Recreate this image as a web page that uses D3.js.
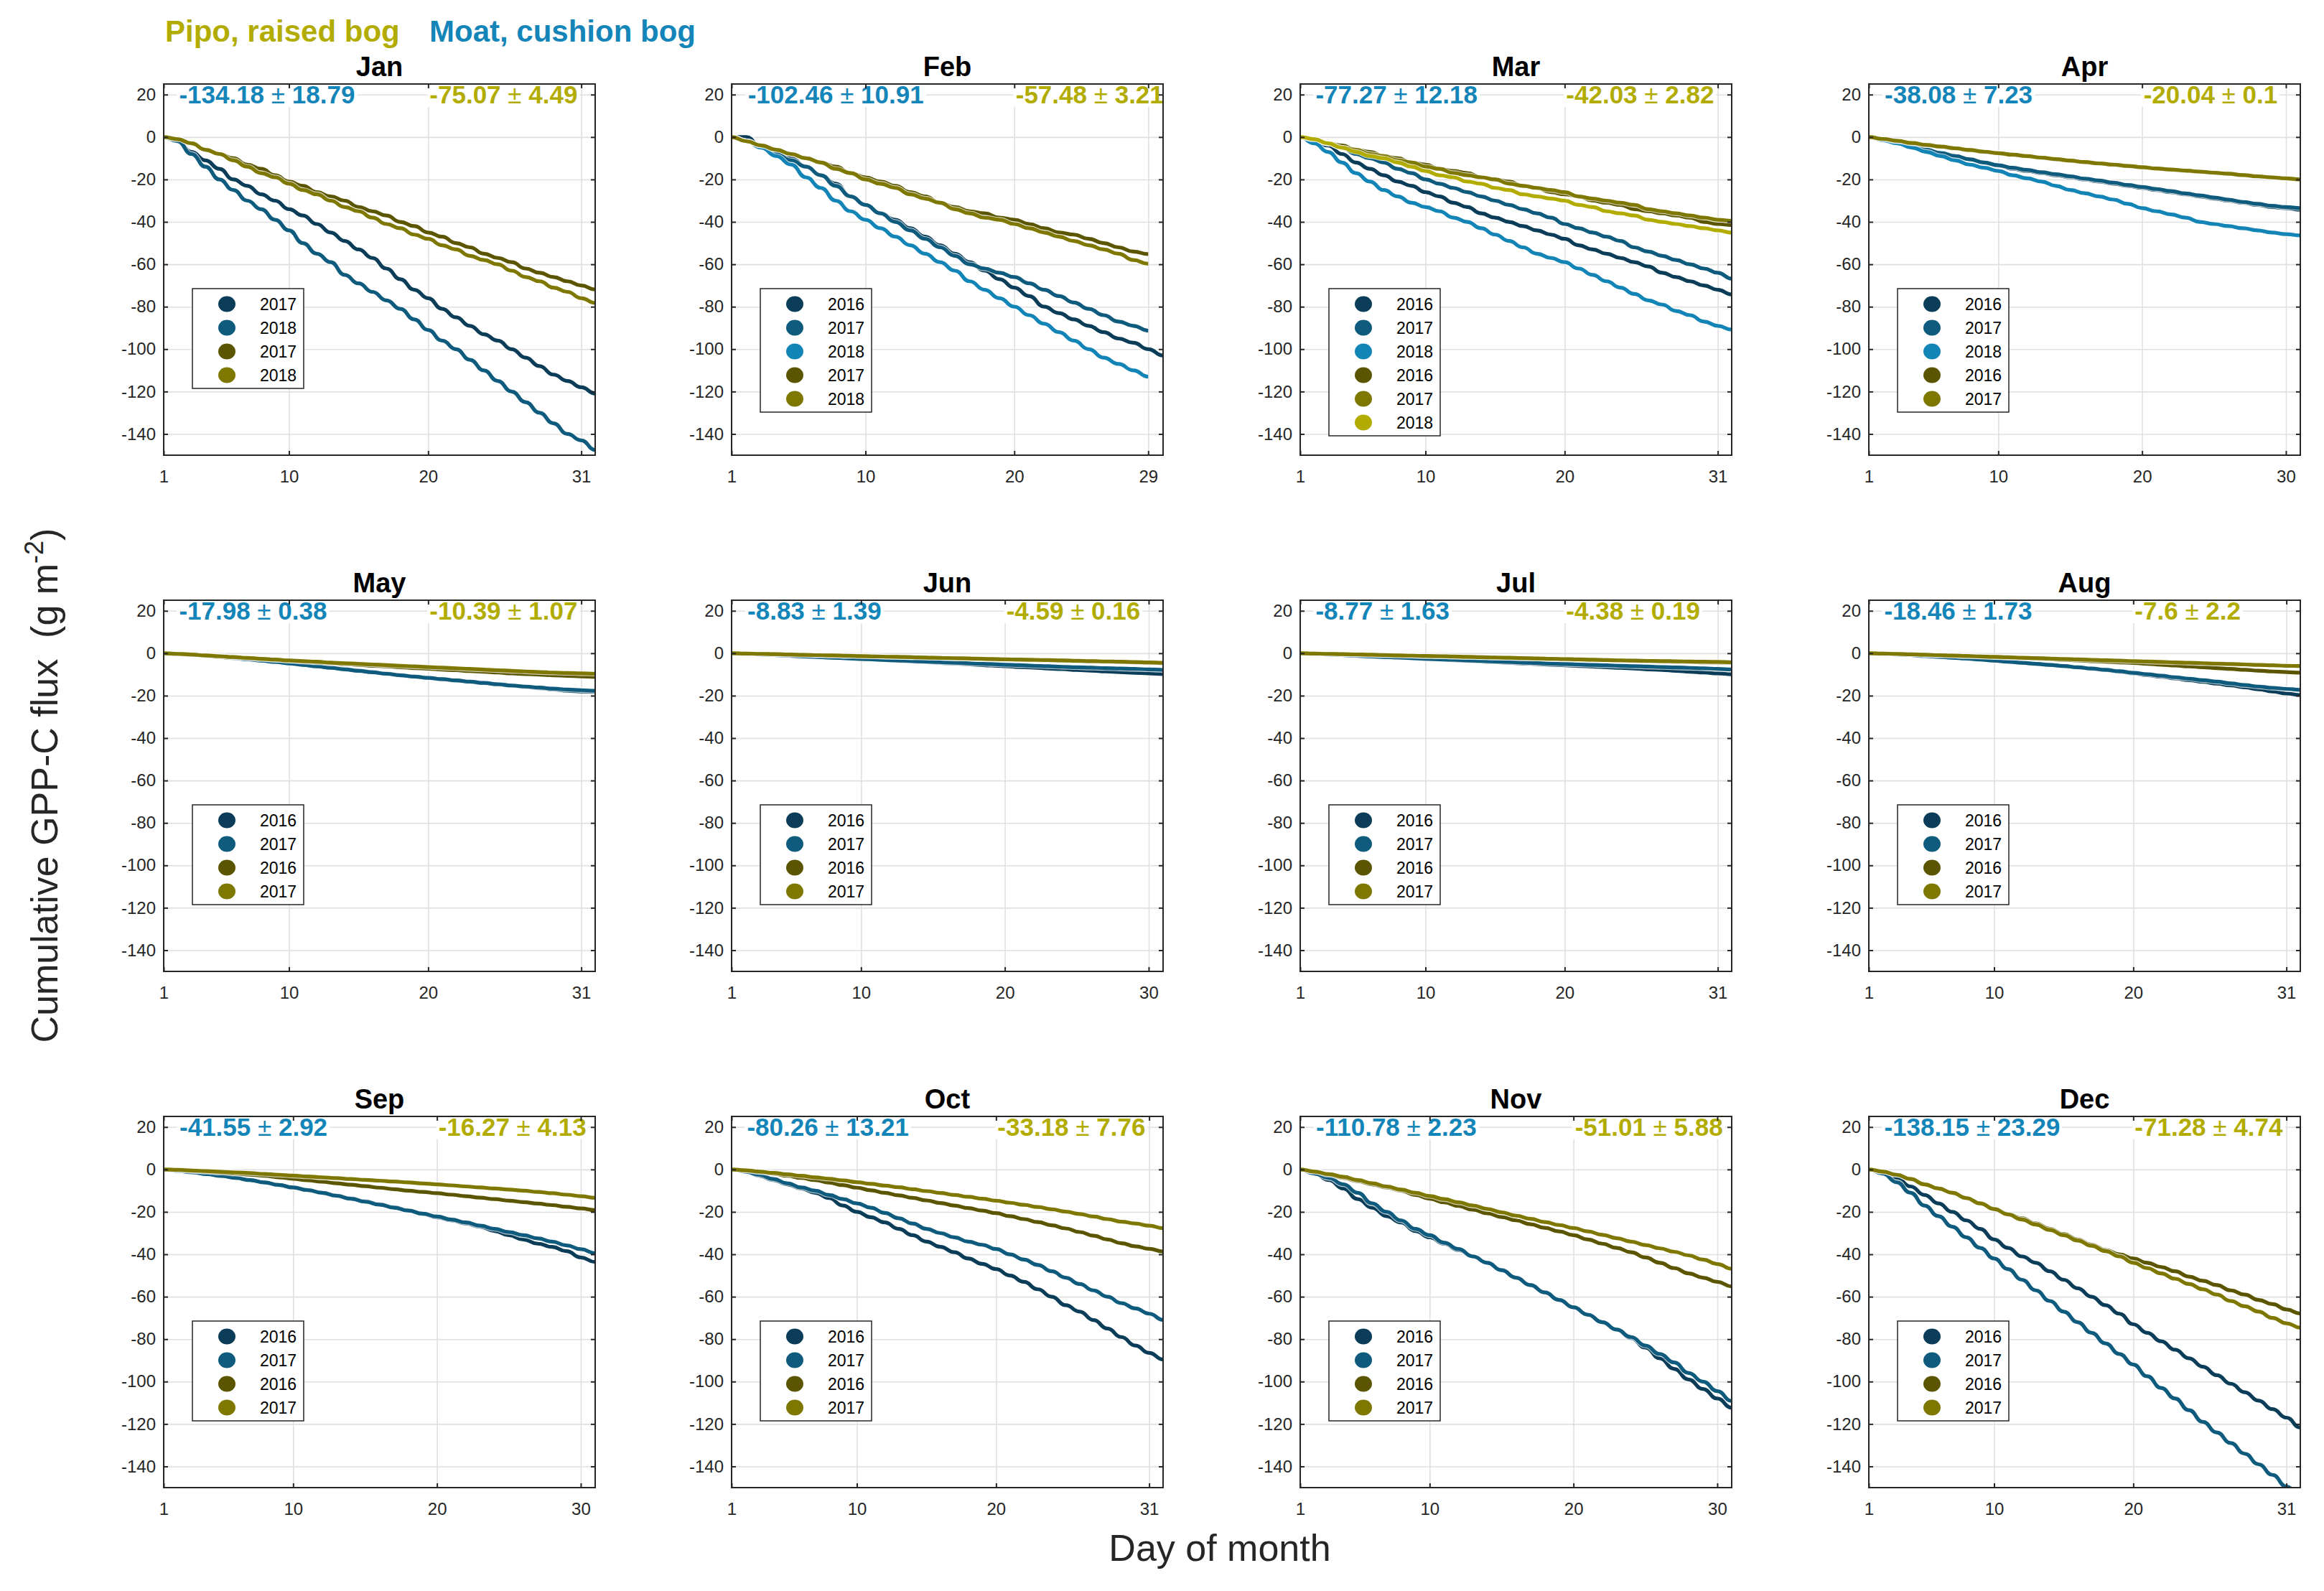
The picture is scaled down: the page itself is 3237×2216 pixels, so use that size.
<!DOCTYPE html>
<html>
<head>
<meta charset="utf-8">
<script src="https://cdn.jsdelivr.net/npm/d3@7"></script>
<style>
  body { margin: 0; background: #fff; }
  text { font-family: "Liberation Sans", Arial, Helvetica, sans-serif; }
</style>
</head>
<body>
<script>
width = 3237;
height = 2216;

// ---- data (cumulative GPP-C, g m-2, value at the start of each day) ----
const months = ['Jan', 'Feb', 'Mar', 'Apr', 'May', 'Jun', 'Jul', 'Aug', 'Sep', 'Oct', 'Nov', 'Dec'];
const monthDays = [31, 29, 31, 30, 31, 30, 31, 31, 30, 31, 30, 31];

const moatYears = [['2017', '2018'], ['2016', '2017', '2018'], ['2016', '2017', '2018'], ['2016', '2017', '2018'],
  ['2016', '2017'], ['2016', '2017'], ['2016', '2017'], ['2016', '2017'],
  ['2016', '2017'], ['2016', '2017'], ['2016', '2017'], ['2016', '2017']];
const pipoYears = [['2017', '2018'], ['2017', '2018'], ['2016', '2017', '2018'], ['2016', '2017'],
  ['2016', '2017'], ['2016', '2017'], ['2016', '2017'], ['2016', '2017'],
  ['2016', '2017'], ['2016', '2017'], ['2016', '2017'], ['2016', '2017']];

const moatMean = [-134.18, -102.46, -77.27, -38.08, -17.98, -8.83, -8.77, -18.46, -41.55, -80.26, -110.78, -138.15];
const moatSd = [18.79, 10.91, 12.18, 7.23, 0.38, 1.39, 1.63, 1.73, 2.92, 13.21, 2.23, 23.29];
const pipoMean = [-75.07, -57.48, -42.03, -20.04, -10.39, -4.59, -4.38, -7.6, -16.27, -33.18, -51.01, -71.28];
const pipoSd = [4.49, 3.21, 2.82, 0.1, 1.07, 0.16, 0.19, 2.2, 4.13, 7.76, 5.88, 4.74];

const janMoat = [
  [0, -2, -7, -11, -15, -20, -23, -27, -30, -34, -37, -41, -45, -49, -53, -57, -62, -67, -72, -76, -81, -85, -89, -93, -96, -100, -104, -108, -112, -115, -118, -120.9],
  [0, -2, -8, -14, -20, -25, -30, -34, -39, -44, -50, -55, -59, -65, -69, -73, -77, -81, -86, -91, -96, -100, -105, -110, -115, -120, -125, -130, -135, -140, -143, -147.5]
];
const janPipo = [
  [0, -1, -3, -6, -8, -10, -13, -15, -18, -21, -23, -26, -28, -30, -33, -35, -37, -40, -42, -45, -47, -50, -52, -55, -57, -59, -62, -64, -66, -68, -70, -71.9],
  [0, -1, -3, -6, -8, -11, -14, -17, -19, -22, -25, -27, -30, -33, -35, -38, -41, -43, -46, -48, -51, -53, -56, -58, -60, -63, -66, -68, -71, -73, -76, -78.24]
];
const febMoat = [
  [0, 0, -5, -8, -10, -14, -18, -22, -28, -32, -36, -39, -43, -47, -51, -55, -59, -63, -67, -71, -75, -80, -83, -86, -89, -92, -95, -97, -100, -103],
  [0, -2, -5, -8, -11, -14, -18, -23, -28, -32, -36, -40, -44, -48, -52, -56, -60, -62, -64, -66, -69, -72, -75, -78, -81, -84, -87, -89, -91.3],
  [0, -2, -5, -9, -13, -19, -24, -30, -35, -39, -43, -47, -51, -55, -59, -63, -68, -72, -76, -80, -84, -88, -92, -96, -100, -104, -107, -110, -113]
];
const febPipo = [
  [0, -2, -4, -6, -8, -10, -12, -14, -17, -19, -21, -23, -26, -28, -31, -33, -35, -36, -38, -39, -41, -43, -45, -46, -48, -50, -52, -54, -55.2],
  [0, -2, -4, -6, -8, -10, -12, -15, -17, -20, -22, -24, -27, -29, -31, -34, -36, -38, -39, -41, -43, -45, -47, -49, -51, -53, -55, -58, -59.76]
];
const marMoat = [
  [0, -2, -4, -8, -12, -15, -18, -21, -23, -26, -28, -31, -33, -36, -38, -40, -42, -44, -46, -48, -51, -53, -55, -57, -59, -61, -64, -66, -68, -70, -72, -74.2],
  [0, -1, -3, -5, -8, -10, -12, -15, -17, -20, -22, -24, -26, -28, -30, -32, -34, -36, -38, -41, -43, -45, -47, -49, -52, -54, -56, -58, -60, -62, -64, -66.8],
  [0, -3, -7, -12, -17, -21, -25, -28, -31, -33, -35, -38, -40, -43, -46, -49, -52, -55, -57, -59, -62, -65, -68, -71, -74, -77, -79, -82, -84, -87, -89, -90.8]
];
const marPipo = [
  [0, -1, -3, -4, -6, -7, -9, -10, -12, -13, -15, -16, -17, -19, -20, -21, -23, -24, -26, -27, -28, -30, -31, -32, -34, -35, -36, -37, -38, -40, -41, -41.5],
  [0, -1, -3, -5, -6, -8, -9, -11, -12, -14, -15, -17, -18, -19, -20, -22, -23, -24, -25, -26, -28, -29, -30, -31, -32, -34, -35, -36, -37, -38, -39, -39.5],
  [0, -1, -3, -5, -7, -9, -10, -12, -14, -16, -18, -19, -21, -22, -24, -25, -27, -28, -29, -30, -32, -33, -35, -36, -37, -39, -40, -41, -42, -43, -44, -45.1]
];
const aprMoat = [
  [0, -1, -2, -4, -6, -8, -9, -10.5, -12, -13.5, -15, -16, -17, -18, -19, -20, -21, -22, -23, -24, -25, -26, -27, -28, -29, -30, -31, -32, -33, -33.5, -34.3],
  [0, -1.5, -3, -4.5, -6, -7.5, -9, -10.5, -12, -13.3, -14.5, -15.5, -16.6, -17.5, -18.5, -19.6, -20.5, -21.5, -22.6, -23.5, -24.5, -25.5, -26.6, -27.5, -28.5, -29.5, -30.6, -31.5, -32.4, -33, -33.5],
  [0, -1.5, -3, -5, -7, -9, -11, -13, -14.5, -16, -18, -19.5, -21, -23, -25, -26.5, -28, -29.5, -31.5, -33.5, -35, -36.5, -38, -40, -41, -42, -43, -44, -45, -45.8, -46.4]
];
const aprPipo = [
  [0, -1, -2, -3, -3.8, -4.6, -5.4, -6.2, -7, -7.7, -8.4, -9.1, -9.8, -10.5, -11.2, -11.9, -12.5, -13.1, -13.7, -14.3, -14.9, -15.4, -15.9, -16.4, -16.9, -17.4, -18, -18.6, -19.1, -19.6, -20.11],
  [0, -0.9, -1.8, -2.8, -3.7, -4.5, -5.3, -6.1, -6.9, -7.6, -8.3, -9, -9.7, -10.4, -11.1, -11.8, -12.4, -13, -13.6, -14.2, -14.8, -15.3, -15.8, -16.3, -16.8, -17.3, -17.9, -18.5, -19, -19.5, -19.97]
];
const mayMoat = [
  [0, -0.3, -0.7, -1.2, -1.7, -2.2, -2.8, -3.4, -4, -4.7, -5.4, -6.1, -6.8, -7.5, -8.2, -8.9, -9.6, -10.3, -11, -11.7, -12.3, -12.9, -13.5, -14.1, -14.7, -15.3, -15.9, -16.5, -17.1, -17.7, -18, -18.25],
  [0, -0.4, -0.8, -1.3, -1.8, -2.3, -2.9, -3.5, -4.1, -4.8, -5.5, -6.2, -6.9, -7.6, -8.3, -9, -9.7, -10.4, -11, -11.6, -12.2, -12.8, -13.4, -14, -14.6, -15.2, -15.7, -16.2, -16.7, -17.1, -17.4, -17.71]
];
const mayPipo = [
  [0, -0.3, -0.7, -1.1, -1.5, -1.9, -2.3, -2.7, -3.1, -3.5, -3.9, -4.3, -4.7, -5.1, -5.5, -5.9, -6.2, -6.6, -7, -7.3, -7.7, -8, -8.4, -8.7, -9.1, -9.5, -9.8, -10.1, -10.4, -10.7, -10.9, -11.15],
  [0, -0.3, -0.6, -1, -1.4, -1.8, -2.2, -2.6, -3, -3.4, -3.7, -4, -4.4, -4.7, -5, -5.3, -5.6, -5.9, -6.2, -6.5, -6.8, -7.1, -7.4, -7.7, -8, -8.3, -8.6, -8.9, -9.1, -9.3, -9.5, -9.63]
];
const junMoat = [
  [0, -0.3, -0.6, -0.9, -1.2, -1.5, -1.8, -2.1, -2.4, -2.7, -3, -3.3, -3.7, -4, -4.3, -4.7, -5, -5.4, -5.8, -6.1, -6.5, -6.8, -7.2, -7.5, -7.9, -8.2, -8.6, -8.9, -9.2, -9.5, -9.81],
  [0, -0.3, -0.6, -0.9, -1.2, -1.5, -1.8, -2.1, -2.4, -2.7, -3, -3.3, -3.5, -3.8, -4.1, -4.3, -4.6, -4.9, -5.1, -5.4, -5.6, -5.9, -6.1, -6.4, -6.6, -6.8, -7, -7.2, -7.4, -7.6, -7.85]
];
const junPipo = [
  [0, -0.15, -0.3, -0.45, -0.6, -0.75, -0.9, -1.05, -1.2, -1.35, -1.5, -1.65, -1.8, -1.95, -2.1, -2.3, -2.45, -2.6, -2.75, -2.9, -3.05, -3.2, -3.35, -3.5, -3.65, -3.8, -3.95, -4.1, -4.3, -4.5, -4.7],
  [0, -0.15, -0.3, -0.45, -0.6, -0.75, -0.9, -1.05, -1.2, -1.35, -1.5, -1.65, -1.8, -1.95, -2.1, -2.25, -2.4, -2.55, -2.7, -2.85, -3, -3.1, -3.25, -3.4, -3.55, -3.7, -3.85, -4, -4.15, -4.3, -4.47]
];
const julMoat = [
  [0, -0.3, -0.6, -0.9, -1.2, -1.5, -1.8, -2.1, -2.4, -2.7, -3, -3.3, -3.6, -3.9, -4.2, -4.5, -4.8, -5.1, -5.4, -5.7, -6, -6.3, -6.6, -6.9, -7.2, -7.6, -7.9, -8.3, -8.7, -9.1, -9.5, -9.92],
  [0, -0.3, -0.6, -0.9, -1.2, -1.5, -1.8, -2, -2.3, -2.6, -2.9, -3.1, -3.4, -3.6, -3.9, -4.1, -4.4, -4.6, -4.9, -5.1, -5.3, -5.5, -5.7, -5.9, -6.1, -6.3, -6.5, -6.7, -6.9, -7.1, -7.4, -7.62]
];
const julPipo = [
  [0, -0.15, -0.3, -0.45, -0.6, -0.75, -0.9, -1, -1.15, -1.3, -1.45, -1.6, -1.75, -1.9, -2.05, -2.2, -2.35, -2.5, -2.65, -2.8, -2.95, -3.1, -3.25, -3.4, -3.55, -3.7, -3.85, -4, -4.15, -4.3, -4.4, -4.52],
  [0, -0.15, -0.3, -0.45, -0.55, -0.7, -0.85, -1, -1.15, -1.3, -1.4, -1.55, -1.7, -1.85, -2, -2.15, -2.3, -2.45, -2.6, -2.75, -2.9, -3.05, -3.2, -3.35, -3.5, -3.6, -3.7, -3.8, -3.9, -4, -4.1, -4.25]
];
const augMoat = [
  [0, -0.3, -0.6, -0.9, -1.3, -1.7, -2.1, -2.6, -3, -3.5, -4, -4.5, -5, -5.5, -6.1, -6.7, -7.3, -8, -8.7, -9.5, -10.3, -11.1, -11.9, -12.7, -13.5, -14.3, -15.2, -16.1, -17, -18, -19, -19.68],
  [0, -0.3, -0.6, -0.9, -1.3, -1.7, -2.1, -2.5, -3, -3.5, -4, -4.5, -5, -5.5, -6, -6.6, -7.2, -7.8, -8.5, -9.2, -9.9, -10.6, -11.3, -12, -12.7, -13.4, -14.2, -15, -15.7, -16.3, -16.8, -17.24]
];
const augPipo = [
  [0, -0.15, -0.3, -0.5, -0.7, -0.9, -1.1, -1.3, -1.55, -1.8, -2.05, -2.3, -2.55, -2.8, -3.1, -3.4, -3.7, -4, -4.3, -4.6, -5, -5.4, -5.8, -6.2, -6.6, -7, -7.4, -7.8, -8.2, -8.6, -8.9, -9.16],
  [0, -0.15, -0.3, -0.5, -0.7, -0.9, -1.1, -1.3, -1.5, -1.7, -1.9, -2.1, -2.3, -2.5, -2.7, -2.9, -3.1, -3.3, -3.5, -3.7, -3.9, -4.1, -4.3, -4.5, -4.7, -4.9, -5.1, -5.3, -5.5, -5.7, -5.9, -6.04]
];
const sepMoat = [
  [0, -0.6, -1.2, -2, -3, -4, -5, -6.2, -7.4, -8.6, -9.8, -11, -12.3, -13.6, -15, -16.4, -17.8, -19.3, -21, -22.6, -24, -25.5, -27, -29, -31, -33, -35, -36.5, -38.5, -41.5, -43.62],
  [0, -0.7, -1.4, -2.2, -3.1, -4, -5, -6.1, -7.3, -8.5, -9.7, -11, -12.4, -13.8, -15.2, -16.6, -18, -19.4, -20.8, -22.2, -23.6, -25, -26.5, -28, -29.5, -31, -32.5, -34, -35.8, -37.6, -39.48]
];
const sepPipo = [
  [0, -0.3, -0.7, -1.1, -1.5, -2, -2.5, -3, -3.7, -4.4, -5.1, -5.8, -6.5, -7.2, -7.9, -8.6, -9.3, -10, -10.6, -11.2, -11.9, -12.6, -13.3, -14, -14.7, -15.4, -16.1, -16.8, -17.6, -18.4, -19.19],
  [0, -0.2, -0.5, -0.8, -1.1, -1.4, -1.7, -2.1, -2.5, -2.9, -3.3, -3.7, -4.1, -4.5, -4.9, -5.3, -5.7, -6.1, -6.6, -7, -7.5, -8, -8.5, -9, -9.5, -10, -10.6, -11.2, -11.9, -12.6, -13.35]
];
const octMoat = [
  [0, -1, -3, -5, -7, -9, -11, -13.5, -17, -20, -22.5, -25, -28, -31, -34, -36.5, -39, -42, -44.5, -47, -50, -53, -56.5, -60, -64, -67, -71, -75, -79, -83, -86.5, -89.6],
  [0, -1, -2.5, -4.5, -6.5, -8.5, -10, -12, -14, -16, -18, -20.5, -23, -25.5, -28, -30, -32, -34, -35.5, -37.5, -40, -42.5, -45, -48, -51, -54, -57, -60, -63, -65.5, -68, -70.92]
];
const octPipo = [
  [0, -0.5, -1.2, -2, -3, -4, -5, -6.2, -7.4, -8.6, -9.8, -11, -12.2, -13.4, -14.6, -15.8, -17, -18.2, -19.4, -20.6, -22, -23.4, -24.8, -26.3, -27.8, -29.5, -31.2, -33, -34.8, -36.2, -37.4, -38.67],
  [0, -0.4, -1, -1.6, -2.3, -3, -3.7, -4.4, -5.2, -6, -6.8, -7.6, -8.4, -9.3, -10.2, -11.1, -12, -12.9, -13.8, -14.7, -15.7, -16.7, -17.7, -18.8, -19.9, -21, -22.2, -23.4, -24.6, -25.5, -26.5, -27.69]
];
const novMoat = [
  [0, -2, -5, -9, -14, -18, -22, -25, -29, -32, -35, -38, -41, -44, -47.5, -51, -54.5, -58, -61.5, -65, -68.5, -72, -75.5, -79.5, -84, -89, -94, -99, -103.5, -108, -112.36],
  [0, -2, -4, -7, -11, -16, -20, -24, -28, -31, -34.5, -37.5, -41, -44, -47.5, -51, -54.5, -58, -61.5, -65, -68.5, -72, -75.5, -79, -83, -87, -91, -96, -100, -104.5, -109.2]
];
const novPipo = [
  [0, -1, -2.5, -4, -5.5, -7, -8.5, -10, -12, -13.8, -15.5, -17.2, -19, -20.7, -22.4, -24, -25.8, -27.5, -29.2, -31, -33, -35, -37, -39, -41.5, -44, -46.5, -49, -51, -53, -55.17],
  [0, -1, -2.2, -3.5, -5, -6.5, -8, -9.5, -11, -12.5, -14, -15.5, -17, -18.6, -20.2, -21.8, -23.3, -24.8, -26.2, -27.6, -29.2, -30.8, -32.4, -34, -35.6, -37.2, -38.8, -40.5, -42.5, -44.6, -46.85]
];
const decMoat = [
  [0, -1, -4, -8, -12, -16, -20, -24, -28, -33, -37, -41, -44, -48, -52, -56, -60, -64, -68, -73, -77, -81, -85, -89, -93, -97, -101, -105, -109, -113, -117, -121.68],
  [0, -2, -6, -11, -17, -22, -27, -32, -37, -42, -47, -52, -57, -62, -67, -72, -77, -82, -87, -92, -97.5, -103, -108, -113.5, -119, -124, -129, -134, -139, -144, -149.5, -154.62]
];
const decPipo = [
  [0, -1, -2.5, -4.5, -7, -9, -11, -13.5, -16, -18.5, -21, -23, -25.5, -28, -30.5, -33, -35.5, -38, -40, -42, -44, -46, -48, -50.5, -52.5, -54.5, -57, -59, -61.5, -63.5, -66, -67.93],
  [0, -1, -2.5, -4.5, -7, -9, -11, -13.5, -16, -18.7, -21.2, -23.6, -26, -28.5, -31, -33.5, -36, -38.5, -41, -44, -46.5, -49, -51.5, -54, -56.5, -59, -62, -64.5, -67, -70, -72.5, -74.63]
];

const moatSeries = [janMoat, febMoat, marMoat, aprMoat, mayMoat, junMoat, julMoat, augMoat, sepMoat, octMoat, novMoat, decMoat];
const pipoSeries = [janPipo, febPipo, marPipo, aprPipo, mayPipo, junPipo, julPipo, augPipo, sepPipo, octPipo, novPipo, decPipo];

const yTicks = [-140, -120, -100, -80, -60, -40, -20, 0, 20];

// ---- style ----
const moatColors = ['#0b3d58', '#0e5b7d', '#1384b6'];
const pipoColors = ['#5b5500', '#7e7800', '#b2ab00'];
const moatTextColor = '#1485b8';
const pipoTextColor = '#b3ac00';
const axisColor = '#262626';
const gridColor = '#e0e0e0';

const colLeft = [228, 1019, 1811, 2603];
const rowTop = [117, 836, 1555];
const pw = 601;
const ph = 517;

function main() {
  const svg = d3.select('body').append('svg').attr('width', width).attr('height', height);
  svg.append('rect').attr('width', width).attr('height', height).attr('fill', '#fff');

  months.forEach((m, i) => drawPanel(svg, i));

  // group labels on top
  svg.append('text').attr('x', 230).attr('y', 58)
    .attr('font-size', 42).attr('font-weight', 'bold').attr('fill', pipoTextColor)
    .text('Pipo, raised bog');
  svg.append('text').attr('x', 598).attr('y', 58)
    .attr('font-size', 42).attr('font-weight', 'bold').attr('fill', moatTextColor)
    .text('Moat, cushion bog');

  // axis labels
  const yl = svg.append('text')
    .attr('transform', 'translate(80,1094) rotate(-90)')
    .attr('text-anchor', 'middle')
    .attr('font-size', 52)
    .attr('fill', axisColor)
    .style('white-space', 'pre');
  yl.append('tspan').text('Cumulative GPP-C flux  (g m');
  yl.append('tspan').attr('font-size', 36).attr('dy', -20).text('-2');
  yl.append('tspan').attr('dy', 20).text(')');

  svg.append('text').attr('x', 1699).attr('y', 2174)
    .attr('text-anchor', 'middle').attr('font-size', 52).attr('fill', axisColor)
    .text('Day of month');
}

function drawPanel(svg, i) {
  const left = colLeft[i % 4];
  const top = rowTop[Math.floor(i / 4)];
  const nd = monthDays[i];

  const x = d3.scaleLinear().domain([1, nd + 1]).range([0, pw]);
  const y = d3.scaleLinear().domain([-150, 25]).range([ph, 0]);
  const xTicks = [1, 10, 20, nd];

  const g = svg.append('g').attr('transform', `translate(${left},${top})`);

  // grid
  const gx = g.append('g').call(d3.axisBottom(x).tickValues(xTicks).tickSize(ph).tickFormat(''));
  const gy = g.append('g').call(d3.axisLeft(y).tickValues(yTicks).tickSize(-pw).tickFormat(''));
  [gx, gy].forEach(a => {
    a.select('.domain').remove();
    a.selectAll('line').attr('stroke', gridColor).attr('stroke-width', 1.6);
  });

  // mean +- sd labels
  addStat(g, x(2) + 2, y(20), moatMean[i], moatSd[i], moatTextColor);
  addStat(g, x(20) + 2, y(20), pipoMean[i], pipoSd[i], pipoTextColor);

  // lines
  g.append('clipPath').attr('id', `clip${i}`)
    .append('rect').attr('width', pw).attr('height', ph);
  const lines = g.append('g').attr('clip-path', `url(#clip${i})`);
  const line = d3.line().x((d, j) => x(j + 1)).y(d => y(d)).curve(d3.curveBumpX);

  const series = moatSeries[i].map((s, k) => ({ s, c: moatColors[k] }))
    .concat(pipoSeries[i].map((s, k) => ({ s, c: pipoColors[k] })));
  series.forEach(d => {
    lines.append('path').attr('d', line(d.s)).attr('fill', 'none')
      .attr('stroke', '#fff').attr('stroke-opacity', 0.7).attr('stroke-width', 7.5);
    lines.append('path').attr('d', line(d.s)).attr('fill', 'none')
      .attr('stroke', d.c).attr('stroke-width', 5.2).attr('stroke-linejoin', 'round');
  });

  // axes (ticks pointing inwards on all four sides)
  const fmt = d => String(d);
  const ax = [
    g.append('g').call(d3.axisLeft(y).tickValues(yTicks).tickSize(-6).tickSizeOuter(0).tickPadding(11).tickFormat(fmt)),
    g.append('g').attr('transform', `translate(${pw},0)`).call(d3.axisRight(y).tickValues(yTicks).tickSize(-6).tickSizeOuter(0).tickFormat('')),
    g.append('g').attr('transform', `translate(0,${ph})`).call(d3.axisBottom(x).tickValues(xTicks).tickSize(-6).tickSizeOuter(0).tickPadding(21).tickFormat(fmt)),
    g.append('g').call(d3.axisTop(x).tickValues(xTicks).tickSize(-6).tickSizeOuter(0).tickFormat(''))
  ];
  ax.forEach(a => {
    a.select('.domain').remove();
    a.selectAll('line').attr('stroke', axisColor).attr('stroke-width', 2);
    a.selectAll('text').attr('font-size', 24).attr('fill', axisColor)
      .attr('font-family', '"Liberation Sans", Arial, Helvetica, sans-serif');
  });
  g.append('rect').attr('width', pw).attr('height', ph)
    .attr('fill', 'none').attr('stroke', axisColor).attr('stroke-width', 2);

  // title
  g.append('text').attr('x', pw / 2).attr('y', -11)
    .attr('text-anchor', 'middle').attr('font-size', 38).attr('font-weight', 'bold')
    .text(months[i]);

  // legend
  const entries = moatYears[i].map((yr, k) => ({ yr, c: moatColors[k] }))
    .concat(pipoYears[i].map((yr, k) => ({ yr, c: pipoColors[k] })));
  const lg = g.append('g').attr('transform', 'translate(40,285)');
  lg.append('rect').attr('width', 155).attr('height', entries.length * 33 + 7)
    .attr('fill', '#fff').attr('stroke', axisColor).attr('stroke-width', 1.5);
  lg.selectAll('ellipse').data(entries).join('ellipse')
    .attr('cx', 48).attr('cy', (d, k) => 21.5 + k * 33)
    .attr('rx', 12).attr('ry', 11).attr('fill', d => d.c);
  lg.selectAll('text').data(entries).join('text')
    .attr('x', 94).attr('y', (d, k) => 21.5 + k * 33).attr('dy', '0.36em')
    .attr('font-size', 23).attr('fill', '#000')
    .text(d => d.yr);
}

function addStat(g, x0, y0, mean, sd, color) {
  const t = g.append('text').attr('x', x0).attr('y', y0).attr('dy', '0.35em')
    .attr('font-size', 35).attr('font-weight', 'bold').attr('fill', color);
  t.append('tspan').text(String(mean));
  t.append('tspan').attr('font-weight', 'normal').text(' \u00b1 ');
  t.append('tspan').text(String(sd));
  const b = t.node().getBBox();
  g.insert('rect', () => t.node())
    .attr('x', b.x - 3).attr('y', b.y + 2).attr('width', b.width + 6).attr('height', b.height - 4)
    .attr('fill', '#fff');
}

main();
</script>
</body>
</html>
